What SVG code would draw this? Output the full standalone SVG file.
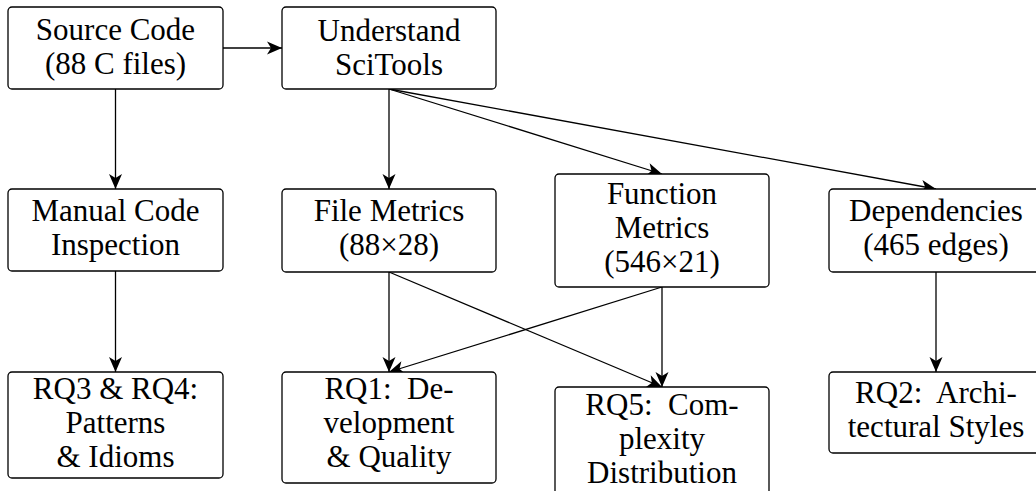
<svg xmlns="http://www.w3.org/2000/svg" width="1036" height="491" viewBox="0 0 1036 491">
<style>
.box{fill:#fff;stroke:#000;stroke-width:1.3}
.t{font-size:31px;fill:#000;text-anchor:middle}
.c{fill:none;stroke:#000;stroke-width:1.3}
</style>
<defs>
<marker id="ah" markerUnits="userSpaceOnUse" markerWidth="20" markerHeight="16" viewBox="-16 -8 18 16" refX="0" refY="0" orient="auto">
<path d="M0,0 L-15,-6.5 L-11,0 L-15,6.5 Z" fill="#000"/>
</marker>
</defs>
<rect width="1036" height="491" fill="#fff"/>
<g id="connectors">
<line class="c" x1="223" y1="48" x2="282" y2="48" marker-end="url(#ah)"/>
<line class="c" x1="115.5" y1="89" x2="115.5" y2="189" marker-end="url(#ah)"/>
<line class="c" x1="389" y1="89" x2="389" y2="189" marker-end="url(#ah)"/>
<line class="c" x1="389" y1="89" x2="662" y2="174" marker-end="url(#ah)"/>
<line class="c" x1="389" y1="89" x2="936" y2="189" marker-end="url(#ah)"/>
<line class="c" x1="115.5" y1="271" x2="115.5" y2="372" marker-end="url(#ah)"/>
<line class="c" x1="389" y1="272" x2="389" y2="372" marker-end="url(#ah)"/>
<line class="c" x1="389" y1="272" x2="662" y2="387" marker-end="url(#ah)"/>
<line class="c" x1="662" y1="287" x2="389" y2="372" marker-end="url(#ah)"/>
<line class="c" x1="662" y1="287" x2="662" y2="387" marker-end="url(#ah)"/>
<line class="c" x1="936" y1="272" x2="936" y2="372" marker-end="url(#ah)"/>
</g>
<g id="source">
<rect class="box" x="8" y="7" width="215" height="82" rx="4"/>
<text class="t" font-family="Liberation Serif" x="115.5" y="40">Source Code</text>
<text class="t" font-family="Liberation Serif" x="115.5" y="74">(88 C files)</text>
</g>
<g id="understand">
<rect class="box" x="282" y="7" width="214" height="82" rx="4"/>
<text class="t" font-family="Liberation Serif" x="389" y="41">Understand</text>
<text class="t" font-family="Liberation Serif" x="389" y="75">SciTools</text>
</g>
<g id="manual">
<rect class="box" x="8" y="189" width="215" height="82" rx="4"/>
<text class="t" font-family="Liberation Serif" x="115.5" y="221">Manual Code</text>
<text class="t" font-family="Liberation Serif" x="115.5" y="255">Inspection</text>
</g>
<g id="filemetrics">
<rect class="box" x="282" y="189" width="214" height="83" rx="4"/>
<text class="t" font-family="Liberation Serif" x="389" y="221">File Metrics</text>
<text class="t" font-family="Liberation Serif" x="389" y="255">(88×28)</text>
</g>
<g id="funcmetrics">
<rect class="box" x="555" y="174" width="214" height="113" rx="4"/>
<text class="t" font-family="Liberation Serif" x="662" y="204">Function</text>
<text class="t" font-family="Liberation Serif" x="662" y="238">Metrics</text>
<text class="t" font-family="Liberation Serif" x="662" y="272">(546×21)</text>
</g>
<g id="dependencies">
<rect class="box" x="829" y="189" width="214" height="83" rx="4"/>
<text class="t" font-family="Liberation Serif" x="936" y="221">Dependencies</text>
<text class="t" font-family="Liberation Serif" x="936" y="255">(465 edges)</text>
</g>
<g id="rq34">
<rect class="box" x="8" y="372" width="215" height="106" rx="4"/>
<text class="t" font-family="Liberation Serif" x="115.5" y="399">RQ3 &amp; RQ4:</text>
<text class="t" font-family="Liberation Serif" x="115.5" y="433">Patterns</text>
<text class="t" font-family="Liberation Serif" x="115.5" y="467">&amp; Idioms</text>
</g>
<g id="rq1">
<rect class="box" x="282" y="372" width="214" height="111" rx="4"/>
<text class="t" font-family="Liberation Serif" x="389" y="399" xml:space="preserve">RQ1:  De-</text>
<text class="t" font-family="Liberation Serif" x="389" y="433">velopment</text>
<text class="t" font-family="Liberation Serif" x="389" y="467">&amp; Quality</text>
</g>
<g id="rq5">
<rect class="box" x="555" y="387" width="214" height="110" rx="4"/>
<text class="t" font-family="Liberation Serif" x="662" y="415" xml:space="preserve">RQ5:  Com-</text>
<text class="t" font-family="Liberation Serif" x="662" y="449">plexity</text>
<text class="t" font-family="Liberation Serif" x="662" y="483">Distribution</text>
</g>
<g id="rq2">
<rect class="box" x="829" y="372" width="214" height="81" rx="4"/>
<text class="t" font-family="Liberation Serif" x="936" y="403" xml:space="preserve">RQ2:  Archi-</text>
<text class="t" font-family="Liberation Serif" x="936" y="437">tectural Styles</text>
</g>
</svg>
